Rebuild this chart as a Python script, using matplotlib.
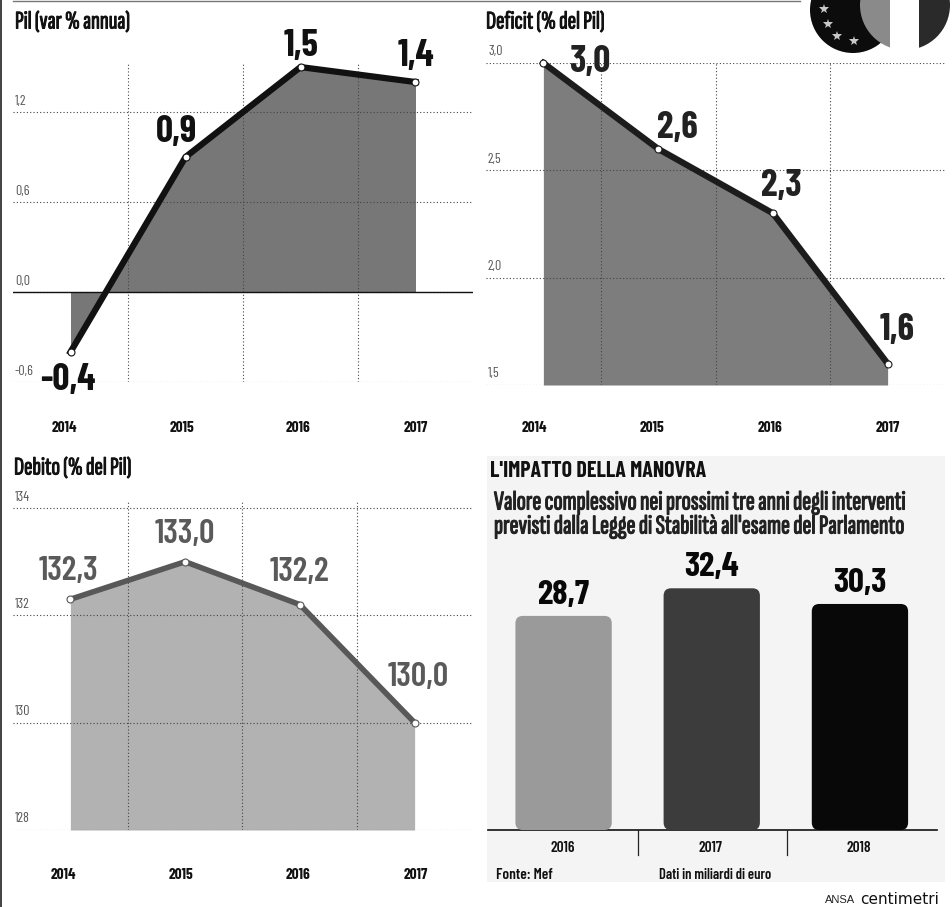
import matplotlib
matplotlib.use("Agg")
import matplotlib.pyplot as plt
import matplotlib.patheffects as pe
from matplotlib.patches import Circle, FancyBboxPatch, Rectangle

W, H = 953, 907
plt.rcParams['font.family'] = ['Barlow Condensed', 'DejaVu Sans']
TITLE_FONT = ['Sofia Sans Extra Condensed', 'Barlow Condensed', 'DejaVu Sans']

# data
years = ["2014", "2015", "2016", "2017"]
pil = [-0.4, 0.9, 1.5, 1.4]
pil_labels = ["-0,4", "0,9", "1,5", "1,4"]
pil_ticks = [-0.6, 0.0, 0.6, 1.2]
pil_tick_labels = ["-0,6", "0,0", "0,6", "1,2"]
deficit = [3.0, 2.6, 2.3, 1.6]
deficit_labels = ["3,0", "2,6", "2,3", "1,6"]
deficit_ticks = [1.5, 2.0, 2.5, 3.0]
deficit_tick_labels = ["1,5", "2,0", "2,5", "3,0"]
debito = [132.3, 133.0, 132.2, 130.0]
debito_labels = ["132,3", "133,0", "132,2", "130,0"]
debito_ticks = [128, 130, 132, 134]
debito_tick_labels = ["128", "130", "132", "134"]
manovra_years = ["2016", "2017", "2018"]
manovra = [28.7, 32.4, 30.3]
manovra_labels = ["28,7", "32,4", "30,3"]
manovra_colors = ["#9a9a9a", "#3c3c3c", "#080808"]

fig = plt.figure(figsize=(W / 100, H / 100), dpi=100, facecolor="white")


def axes_px(left, right, top, bottom):
    return fig.add_axes([left / W, 1 - bottom / H, (right - left) / W, (bottom - top) / H])


def heavy(color, width=0.7):
    # the extra condensed face only comes in a light cut here, so thicken it
    return [pe.withStroke(linewidth=width, foreground=color)]


# full page layer in pixel coordinates, for titles and the logo
page = axes_px(0, W, 0, H)
page.set_xlim(0, W)
page.set_ylim(H, 0)
page.axis("off")

# light tint behind the bar panel
page.add_patch(Rectangle((487, 456), 458, 426, color="#f4f4f4", lw=0))

# page edges
page.plot([1, 1], [0, H], color="#333333", lw=1.3)
page.plot([13, 800], [0.5, 0.5], color="#777777", lw=1)

# logo, EU disc with stars and tricolore disc on top
page.add_patch(Circle((853, 10), 43, color="#0c0c0c", lw=0))
disc = Circle((905, 5), 45, transform=page.transData)
for x0, x1, col in [(855, 890.5, "#8a8a8a"), (890.5, 919.5, "white"), (919.5, 953, "#2a2a2a")]:
    stripe = page.add_patch(Rectangle((x0, -45), x1 - x0, 100, color=col, lw=0))
    stripe.set_clip_path(disc)
page.plot([824, 828, 837, 854], [9, 24, 36, 41], ls="none", marker="*", ms=7, color="#c8c8c8", mew=0)


def line_panel(box, ylim, values, labels, ticks, tick_labels, title, title_xy,
               line_col, fill_col, text_col, label_off, year_dx, year_dy, line_w=4.5,
               fontsize=27, weight="bold"):
    ax = axes_px(*box)
    ax.set_xlim(-0.5, 3.5)
    ax.set_ylim(*ylim)
    for s in ax.spines.values():
        s.set_visible(False)
    ax.patch.set_alpha(0)
    xs = list(range(len(values)))

    base = 0 if ylim[0] < 0 else ylim[0]
    ax.fill_between(xs, base, values, color=fill_col, lw=0, interpolate=True, zorder=1)

    # dotted grid over the area
    for t in ticks:
        ax.axhline(t, color="#444444", lw=0.8, ls=(0, (1, 2)), zorder=2)
    for v in [0.5, 1.5, 2.5]:
        ax.axvline(v, color="#444444", lw=0.8, ls=(0, (1, 2)), zorder=2)
    if ylim[0] < 0:
        ax.axhline(0, color="#111111", lw=1, zorder=2)

    ax.plot(xs, values, color=line_col, lw=line_w, solid_joinstyle="miter", zorder=3,
            marker="o", ms=5, mfc="white", mec=line_col, mew=0.8, clip_on=False)

    for x, v, s, off in zip(xs, values, labels, label_off):
        ax.annotate(s, (x, v), xytext=off, textcoords="offset pixels", ha="center", va="center",
                    fontsize=fontsize, fontweight=weight, color=text_col, zorder=4)
    for t, s in zip(ticks, tick_labels):
        ax.annotate(s, (0, t), xycoords=ax.get_yaxis_transform(), xytext=(2, 11),
                    textcoords="offset pixels", ha="left", va="center", fontsize=10, color="#555555")
    for x, s, dx in zip(xs, years, year_dx):
        ax.annotate(s, (x, 0), xycoords=ax.get_xaxis_transform(), xytext=(dx, -year_dy),
                    textcoords="offset pixels", ha="center", va="center", fontsize=11,
                    fontweight="bold", color="#111111")
    ax.set_xticks([])
    ax.set_yticks([])
    page.text(title_xy[0], title_xy[1], title, fontsize=18.3, family=TITLE_FONT, color="#111111",
              ha="left", va="center", path_effects=heavy("#111111"))
    return ax


line_panel((13, 473, 63, 382), (-0.6, 1.527), pil, pil_labels, pil_ticks, pil_tick_labels,
           "Pil (var % annua)", (15, 22), "#111111", "#777777", "#111111",
           [(-3, -28), (-9, 25), (1, 21), (0, 26)], [-6, -3.5, -2.5, 0], 46)
line_panel((486, 945, 63, 385), (1.5, 3.0), deficit, deficit_labels, deficit_ticks, deficit_tick_labels,
           "Deficit (% del Pil)", (486, 22), "#1c1c1c", "#7d7d7d", "#222222",
           [(46, 1), (19, 21), (8, 27), (9, 34)], [-9, -6, -3, 0], 43)
line_panel((13, 472, 500, 830), (128, 134.15), debito, debito_labels, debito_ticks, debito_tick_labels,
           "Debito (% del Pil)", (14, 468), "#585858", "#b2b2b2", "#5a5a5a",
           [(-2, 28), (0, 27), (0, 32), (4, 45)], [-7, -4, -2, 1], 45, line_w=4, fontsize=24.5,
           weight="semibold")

# bar panel, 7.46 px per unit on the value axis
bar_ax = axes_px(488, 937, 560, 830)
bar_ax.set_xlim(-0.51, 2.52)
bar_ax.set_ylim(0, 270 / 7.46)
bar_ax.axis("off")
bar_ax.patch.set_alpha(0)
bars = bar_ax.bar(manovra_years, manovra, width=0.65, visible=False)
x_scale = 3.03 / 449
for b, col, s, v in zip(bars, manovra_colors, manovra_labels, manovra):
    # rounded replacement for each bar, built from the bar geometry
    aspect = (1 / 7.46) / x_scale
    pad = 0.03
    bar_ax.add_patch(FancyBboxPatch((b.get_x() + pad, pad * aspect), b.get_width() - 2 * pad,
                                    v - 2 * pad * aspect,
                                    boxstyle=f"round,pad={pad},rounding_size={pad + 0.02}",
                                    mutation_aspect=aspect, color=col, lw=0))
    bar_ax.annotate(s, (b.get_x() + b.get_width() / 2, v), xytext=(0, 21), textcoords="offset pixels",
                    ha="center", va="center", fontsize=25, fontweight="bold", color="#080808",
                    annotation_clip=False)
for x, s in zip(range(len(manovra_years)), manovra_years):
    bar_ax.annotate(s, (x, 0), xytext=(-1, -18), textcoords="offset pixels", ha="center", va="center",
                    fontsize=11, fontweight="semibold", color="#111111", annotation_clip=False)

page.plot([488, 937], [830, 830], color="#111111", lw=1.2)
page.plot([638, 638], [830, 855], color="#222222", lw=0.9)
page.plot([787, 787], [830, 855], color="#222222", lw=0.9)

page.text(490, 471, "L'IMPATTO DELLA MANOVRA", fontsize=15.8, fontweight="bold", color="#111111", va="center")
page.text(494, 503, "Valore complessivo nei prossimi tre anni degli interventi", fontsize=19.5,
          family=TITLE_FONT, color="#222222", va="center", path_effects=heavy("#222222", 0.8))
page.text(494, 527, "previsti dalla Legge di Stabilità all'esame del Parlamento", fontsize=19.5,
          family=TITLE_FONT, color="#222222", va="center", path_effects=heavy("#222222", 0.8))
page.text(496, 875, "Fonte: Mef", fontsize=11, fontweight="semibold", color="#111111", va="center")
page.text(659, 875, "Dati in miliardi di euro", fontsize=10.5, fontweight="semibold", color="#111111", va="center")
page.text(825, 900, "ANSA", fontsize=8, family="Liberation Sans", color="#222222", va="center")
page.text(860, 899, "centimetri", fontsize=11, family="DejaVu Sans", color="#111111", va="center")

fig.savefig("out.png", dpi=100)
